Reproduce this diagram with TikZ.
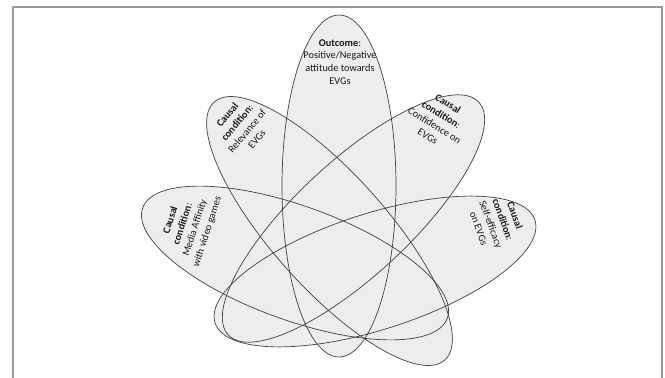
\documentclass[tikz,border=0pt]{standalone}
\usepackage{fontspec}
\setmainfont{Carlito}
\begin{document}
\begin{tikzpicture}[x=1pt,y=-1pt,
  ellfill/.style={fill=black!7},
  elldraw/.style={draw=black!75, line width=0.7pt},
  lbl/.style={align=center, font=\fontsize{10.3}{12.8}\selectfont, inner sep=0pt, text=black!90}]
\useasboundingbox (0,0) rectangle (665,378);
\draw[black!40, line width=1.4pt] (13,400) -- (13,7) -- (662,7) -- (662,400);
\def\ells{339/186/171/57/90, 329.5/231/173/57/131.8, 353.5/218.5/171/57/42.9, 295/263/162/57/160.1, 375/271.5/168/58/17.8}
\foreach \cx/\cy/\a/\b/\ang in \ells {
  \fill[ellfill, rotate around={\ang:(\cx,\cy)}] (\cx,\cy) ellipse[x radius=\a pt, y radius=\b pt];
}
\foreach \cx/\cy/\a/\b/\ang in \ells {
  \draw[elldraw, rotate around={\ang:(\cx,\cy)}] (\cx,\cy) ellipse[x radius=\a pt, y radius=\b pt];
}
\node[lbl] (outcome) at (340,62) {\textbf{Outcome}:\\Positive/Negative\\attitude towards\\EVGs};
\node[lbl, rotate=50] (relevance) at (242,127) {\textbf{Causal}\\\textbf{condition}:\\Relevance of\\EVGs};
\node[lbl, rotate=-32] (confidence) at (438,120) {\textbf{Causal}\\\textbf{condition}:\\Confidence on\\EVGs};
\node[lbl, rotate=72] (media) at (189,226) {\textbf{Causal}\\\textbf{condition}:\\Media Affinity\\with video games};
\node[lbl, rotate=-70] (selfeff) at (497,222) {\textbf{Causal}\\\textbf{condition}:\\Self-efficacy\\on EVGs};
\end{tikzpicture}
\end{document}
